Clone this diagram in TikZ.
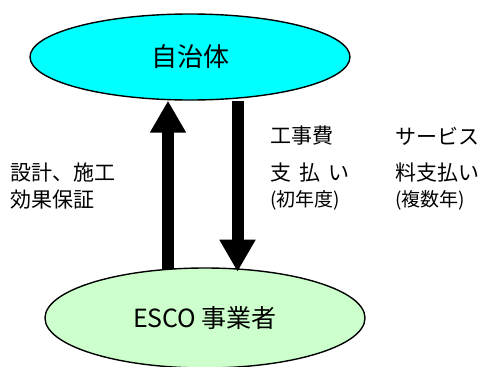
\documentclass[tikz,border=0pt]{standalone}
\usepackage{fontspec}
\setmainfont{Noto Sans CJK JP}
\usetikzlibrary{arrows.meta,shapes.geometric}
\definecolor{topfill}{RGB}{0,255,255}
\definecolor{botfill}{RGB}{204,255,204}
\tikzset{
  party/.style={ellipse,draw=black,line width=1.4pt,minimum width=320pt,inner sep=0pt},
  label/.style={anchor=west,inner sep=0pt,font=\fontsize{21pt}{24pt}\selectfont},
  smalllabel/.style={anchor=west,inner sep=0pt,font=\fontsize{19pt}{22pt}\selectfont},
  bigarrow/.style={line width=12pt,-{Triangle[width=34pt,length=32pt]}},
}
\begin{document}
\begin{tikzpicture}[x=1pt,y=-1pt]
\useasboundingbox (0,0) rectangle (496,367);
\node[party,fill=topfill,minimum height=86pt,font=\fontsize{26pt}{30pt}\selectfont] (jichi) at (190,57) {自治体};
\node[party,fill=botfill,minimum height=100pt,font=\fontsize{25pt}{30pt}\selectfont] (esco) at (205,318) {ESCO 事業者};
\coordinate (upx) at (168,0);
\coordinate (downx) at (237.5,0);
\draw[bigarrow] (esco.north -| upx) ++(0,2) -- (jichi.south -| upx);
\draw[bigarrow] (jichi.south -| downx) -- ++(0,171);
\node[label] (l1) at (10,173) {設計、施工};
\node[label] (l2) at (10,200) {効果保証};
\node[label] (m1) at (270,136) {工事費};
\node[label] (m2) at (270,173) {支\hspace{0.4em}払\hspace{0.4em}い};
\node[smalllabel] (m3) at (270,200) {(初年度)};
\node[label] (r1) at (395,136) {サービス};
\node[label] (r2) at (395,173) {料支払い};
\node[smalllabel] (r3) at (395,200) {(複数年)};
\end{tikzpicture}
\end{document}
